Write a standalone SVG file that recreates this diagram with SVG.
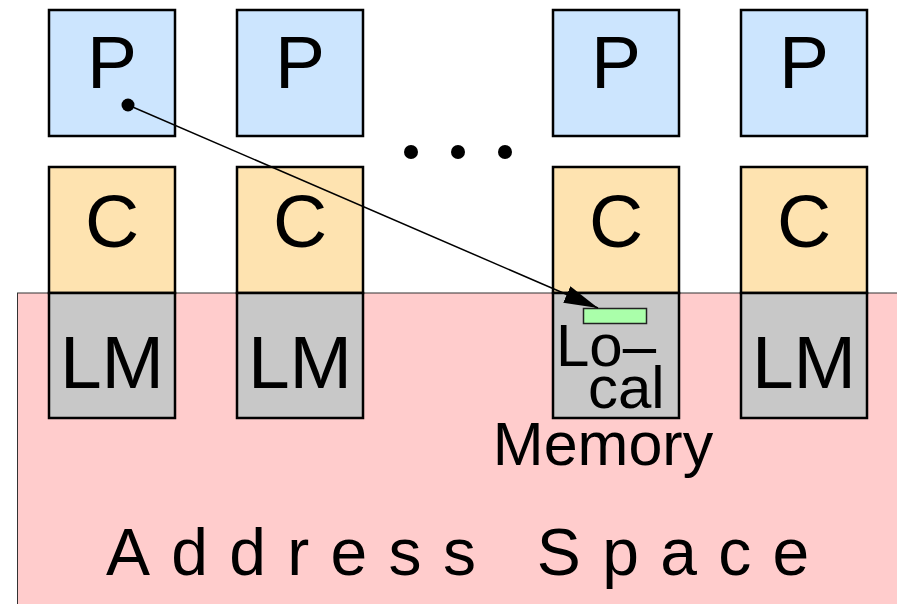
<svg xmlns="http://www.w3.org/2000/svg" width="897" height="604" viewBox="0 0 897 604">
  <defs>
    <style>
      .box { stroke: #000; stroke-width: 2.5; }
      .p { fill: #cce5fe; }
      .c { fill: #fee3b0; }
      .lm { fill: #c8c8c8; }
      .lbl { font-family: "Liberation Sans", Arial, sans-serif; fill: #000; }
      .big { font-size: 75px; text-anchor: middle; }
    </style>
    <marker id="arrow" viewBox="0 0 34 18" refX="34" refY="9" markerWidth="34" markerHeight="18" markerUnits="userSpaceOnUse" orient="auto">
      <path d="M0,0 L34,9 L0,18 z" fill="#000"/>
    </marker>
  </defs>

  <!-- shared address space -->
  <g id="address-space">
    <rect x="17.5" y="293" width="890" height="320" fill="#ffcccc" stroke="#333" stroke-width="1"/>
    <text class="lbl" x="106" y="575" font-size="66" letter-spacing="21.3">Address Space</text>
  </g>

  <!-- column 1 -->
  <g id="p1"><rect class="box p" x="49" y="10" width="126" height="126"/><text class="lbl big" x="112" y="88">P</text></g>
  <g id="c1"><rect class="box c" x="49" y="167" width="126" height="126"/><text class="lbl big" x="112" y="247">C</text></g>
  <g id="lm1"><rect class="box lm" x="49" y="293" width="126" height="125"/><text class="lbl big" x="112" y="388">LM</text></g>

  <!-- column 2 -->
  <g id="p2"><rect class="box p" x="237" y="10" width="126" height="126"/><text class="lbl big" x="300" y="88">P</text></g>
  <g id="c2"><rect class="box c" x="237" y="167" width="126" height="126"/><text class="lbl big" x="300" y="247">C</text></g>
  <g id="lm2"><rect class="box lm" x="237" y="293" width="126" height="125"/><text class="lbl big" x="300" y="388">LM</text></g>

  <!-- column 3 -->
  <g id="p3"><rect class="box p" x="553" y="10" width="126" height="126"/><text class="lbl big" x="616" y="88">P</text></g>
  <g id="c3"><rect class="box c" x="553" y="167" width="126" height="126"/><text class="lbl big" x="616" y="247">C</text></g>
  <g id="lm3">
    <rect class="box lm" x="553" y="293" width="126" height="125"/>
    <rect x="583.5" y="308.5" width="63" height="15" fill="#aaffaa" stroke="#222" stroke-width="1.5"/>
    <text class="lbl" x="556" y="366" font-size="60">Lo–</text>
    <text class="lbl" x="588" y="408" font-size="60">cal</text>
    <text class="lbl" x="603" y="465" font-size="61" text-anchor="middle">Memory</text>
  </g>

  <!-- column 4 -->
  <g id="p4"><rect class="box p" x="741" y="10" width="126" height="126"/><text class="lbl big" x="804" y="88">P</text></g>
  <g id="c4"><rect class="box c" x="741" y="167" width="126" height="126"/><text class="lbl big" x="804" y="247">C</text></g>
  <g id="lm4"><rect class="box lm" x="741" y="293" width="126" height="125"/><text class="lbl big" x="804" y="388">LM</text></g>

  <!-- ellipsis between processors -->
  <g id="ellipsis" fill="#000">
    <circle cx="411" cy="152" r="7"/>
    <circle cx="458" cy="152" r="7"/>
    <circle cx="505" cy="152" r="7"/>
  </g>

  <!-- pointer from processor into local memory -->
  <g id="connectors">
    <circle cx="128" cy="105" r="6.5" fill="#000"/>
    <line x1="128" y1="105" x2="598" y2="308" stroke="#000" stroke-width="1.5" marker-end="url(#arrow)"/>
  </g>
</svg>
